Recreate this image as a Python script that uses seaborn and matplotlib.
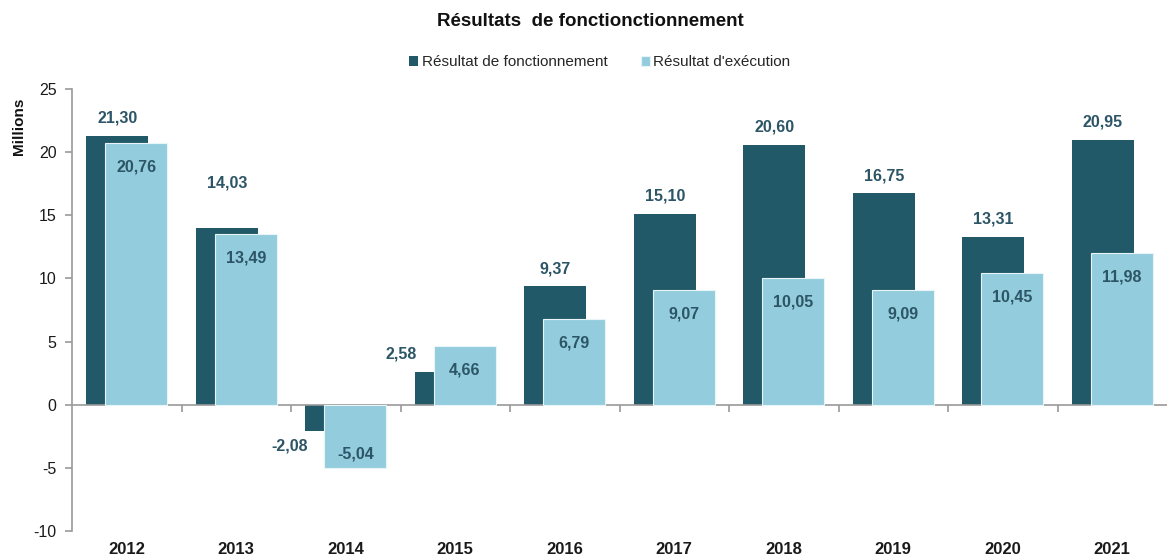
import pandas as pd
import seaborn as sns
import matplotlib.pyplot as plt

annees = [2012, 2013, 2014, 2015, 2016, 2017, 2018, 2019, 2020, 2021]
res_fonctionnement = [21.30, 14.03, -2.08, 2.58, 9.37, 15.10, 20.60, 16.75, 13.31, 20.95]
res_execution = [20.76, 13.49, -5.04, 4.66, 6.79, 9.07, 10.05, 9.09, 10.45, 11.98]

c_fonct = '#225968'
c_exec = '#93cddd'
c_txt = '#2c5566'
decal = 0.087
largeur = 0.566

df = pd.DataFrame({'annee': annees, 'fonct': res_fonctionnement, 'exec': res_execution})
df['x_fonct'] = df['annee'] - decal
df['x_exec'] = df['annee'] + decal

sns.set_theme(style='white')
plt.rcParams['font.family'] = ['Liberation Sans', 'DejaVu Sans']
plt.rcParams['axes.unicode_minus'] = False

fig = plt.figure(figsize=(11.67, 5.58), dpi=100)
ax = fig.add_axes([0.0617, 0.0484, 0.9383, 0.7921])

sns.barplot(data=df, x='x_fonct', y='fonct', native_scale=True, width=largeur,
            color=c_fonct, saturation=1, linewidth=0, ax=ax,
            label='Résultat de fonctionnement', zorder=2)
sns.barplot(data=df, x='x_exec', y='exec', native_scale=True, width=largeur,
            color=c_exec, saturation=1, edgecolor='#e8f4f8', linewidth=0.8, ax=ax,
            label="Résultat d'exécution", zorder=3)

ax.set_xlim(annees[0] - 0.5, annees[-1] + 0.5)
ax.set_ylim(-10, 25)
ax.set_yticks(range(-10, 26, 5))
ax.set_xlabel('')
ax.set_ylabel('Millions', fontsize=11, fontweight='bold', color='#111111')
ax.yaxis.set_label_coords(-0.042, 0.915)

# axes: left spine gray, bottom spine on zero with boundary ticks
for s in ['top', 'right']:
    ax.spines[s].set_visible(False)
ax.spines['left'].set_color('#9a9a9a')
ax.spines['bottom'].set_color('#9a9a9a')
ax.spines['bottom'].set_position(('data', 0))
ax.spines['left'].set_linewidth(1.2)
ax.spines['bottom'].set_linewidth(1.2)
ax.set_xticks([a + 0.5 for a in annees[:-1]])
ax.set_xticklabels([])
ax.tick_params(axis='x', bottom=True, length=5, width=1.2, color='#9a9a9a', direction='out')
ax.tick_params(axis='y', left=True, length=5, width=1.2, color='#9a9a9a', direction='out',
               labelsize=11.5, labelcolor='#1a1a1a', pad=6)

sec = ax.secondary_xaxis('bottom')
sec.set_xticks(annees)
sec.set_xticklabels([str(a) for a in annees], fontsize=12, fontweight='bold', color='#1a1a1a')
sec.tick_params(length=0, pad=8)
sec.spines['bottom'].set_visible(False)

# value labels
nudge_haut = {2013: 2.1}
for a, vf, ve in zip(annees, res_fonctionnement, res_execution):
    txt_f = f'{vf:.2f}'.replace('.', ',')
    txt_e = f'{ve:.2f}'.replace('.', ',')
    xf = a - decal
    xe = a + decal
    if abs(ve) > abs(vf):
        gauche = xf - largeur / 2 + 0.02
        yf = vf + 1.4 if vf >= 0 else vf - 1.2
        ax.text(gauche, yf, txt_f, ha='right', va='center', fontsize=11.5,
                fontweight='bold', color=c_txt, zorder=5)
    else:
        ax.text(xf, vf + 1.4 + nudge_haut.get(a, 0), txt_f, ha='center', va='center',
                fontsize=11.5, fontweight='bold', color=c_txt, zorder=5)
    ye = ve - 1.9 if ve >= 0 else ve + 1.1
    ax.text(xe, ye, txt_e, ha='center', va='center', fontsize=11.5,
            fontweight='bold', color=c_txt, zorder=5)

ax.legend(loc='center', bbox_to_anchor=(0.482, 1.06), ncol=2, frameon=False,
          fontsize=11, handlelength=0.6, handleheight=0.6, handletextpad=0.2,
          columnspacing=2.2)
fig.text(0.506, 0.962, 'Résultats  de fonctionctionnement', ha='center', va='center',
         fontsize=13.5, fontweight='bold', color='#111111')

fig.savefig('out.png', dpi=100)
